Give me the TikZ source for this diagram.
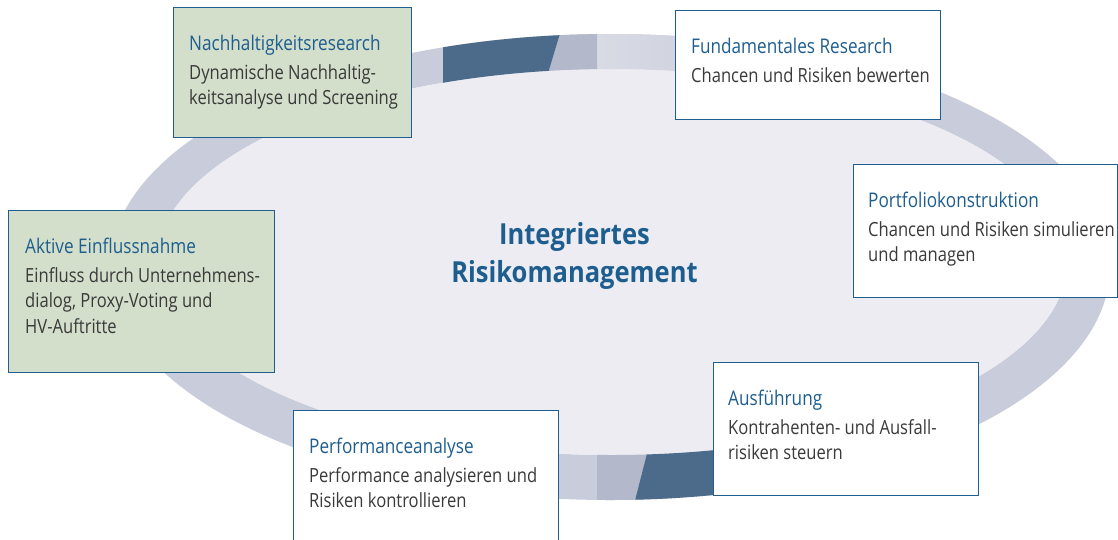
\documentclass[tikz,border=0pt]{standalone}
\usepackage{fontspec}
\setmainfont{Open Sans}[FakeStretch=0.85]
\newfontfamily\centerfont{Open Sans}[FakeStretch=0.88]
\definecolor{boxblue}{RGB}{31,95,143}
\definecolor{titlec}{RGB}{30,94,142}
\definecolor{bodyc}{RGB}{58,58,58}
\definecolor{greenfill}{RGB}{211,222,203}
\definecolor{ringc}{RGB}{201,205,219}
\definecolor{ringhi}{RGB}{216,218,228}
\definecolor{innerc}{RGB}{236,236,242}
\definecolor{darkc}{RGB}{76,107,138}
\definecolor{medc}{RGB}{179,185,202}
\tikzset{
  box/.style={draw=boxblue, line width=1.3pt, anchor=north west, inner sep=0pt},
  greenbox/.style={box, fill=greenfill},
  whitebox/.style={box, fill=white},
  txt/.style={anchor=north west, inner sep=0pt, align=left, text=bodyc,
              font=\fontsize{19.5}{25.5}\selectfont},
  centertxt/.style={anchor=north, inner sep=0pt, align=center, text=titlec,
              font=\centerfont\bfseries\fontsize{29}{38}\selectfont},
}
\newcommand{\ttl}[1]{\rule{0pt}{16pt}{\fontsize{20.2}{25.5}\selectfont\textcolor{titlec}{#1}}\\[3.5pt]}
\begin{document}
\begin{tikzpicture}[x=1pt,y=-1pt]
\useasboundingbox (0,0) rectangle (1118,539);
\clip (0,0) rectangle (1118,539);
\fill[white] (0,0) rectangle (1118,539);
% ring
\fill[ringc, even odd rule] (610,267) ellipse [x radius=500pt, y radius=233pt]
      (612,262) ellipse [x radius=455pt, y radius=193pt];
\fill[innerc] (612,262) ellipse [x radius=455pt, y radius=193pt];
\begin{scope}[even odd rule]
  \clip (610,267) ellipse [x radius=500pt, y radius=233pt]
      (612,262) ellipse [x radius=455pt, y radius=193pt];
  \shade[left color=ringhi, right color=ringc] (597,20) rectangle (780,120);
  \fill[medc] (561,30) -- (597,30) -- (597,100) -- (540,100) -- cycle;
  \fill[darkc] (443,30) -- (561,30) -- (540,100) -- (443,100) -- cycle;
  \fill[medc] (597,430) -- (653,430) -- (630,520) -- (597,520) -- cycle;
  \fill[darkc] (653,430) -- (730,430) -- (730,520) -- (630,520) -- cycle;
\end{scope}
% boxes
\node[greenbox, minimum width=238pt, minimum height=130pt] (b1) at (173,7) {};
\node[whitebox, minimum width=265pt, minimum height=109pt] (b2) at (675,10) {};
\node[whitebox, minimum width=264pt, minimum height=133pt] (b3) at (853,164) {};
\node[greenbox, minimum width=266pt, minimum height=162pt] (b4) at (8,210) {};
\node[whitebox, minimum width=265pt, minimum height=150pt] (b5) at (293,410) {};
\node[whitebox, minimum width=265pt, minimum height=133pt] (b6) at (713,362) {};
% texts
\node[txt] (t1) at (189,34) {\ttl{Nachhaltigkeitsresearch}Dynamische Nachhaltig-\\keitsanalyse und Screening};
\node[txt] (t2) at (691,37) {\ttl{Fundamentales Research}Chancen und Risiken bewerten};
\node[txt] (t3) at (868,191) {\ttl{Portfoliokonstruktion}Chancen und Risiken simulieren\\und managen};
\node[txt] (t4) at (25,237) {\ttl{Aktive Einflussnahme}Einfluss durch Unternehmens-\\dialog, Proxy-Voting und\\HV-Auftritte};
\node[txt] (t5) at (309,437) {\ttl{Performanceanalyse}Performance analysieren und\\Risiken kontrollieren};
\node[txt] (t6) at (728,389) {\ttl{Ausführung}Kontrahenten- und Ausfall-\\risiken steuern};
\node[centertxt] (c) at (574.5,220) {\rule{0pt}{24pt}Integriertes\\Risikomanagement};
\end{tikzpicture}
\end{document}
